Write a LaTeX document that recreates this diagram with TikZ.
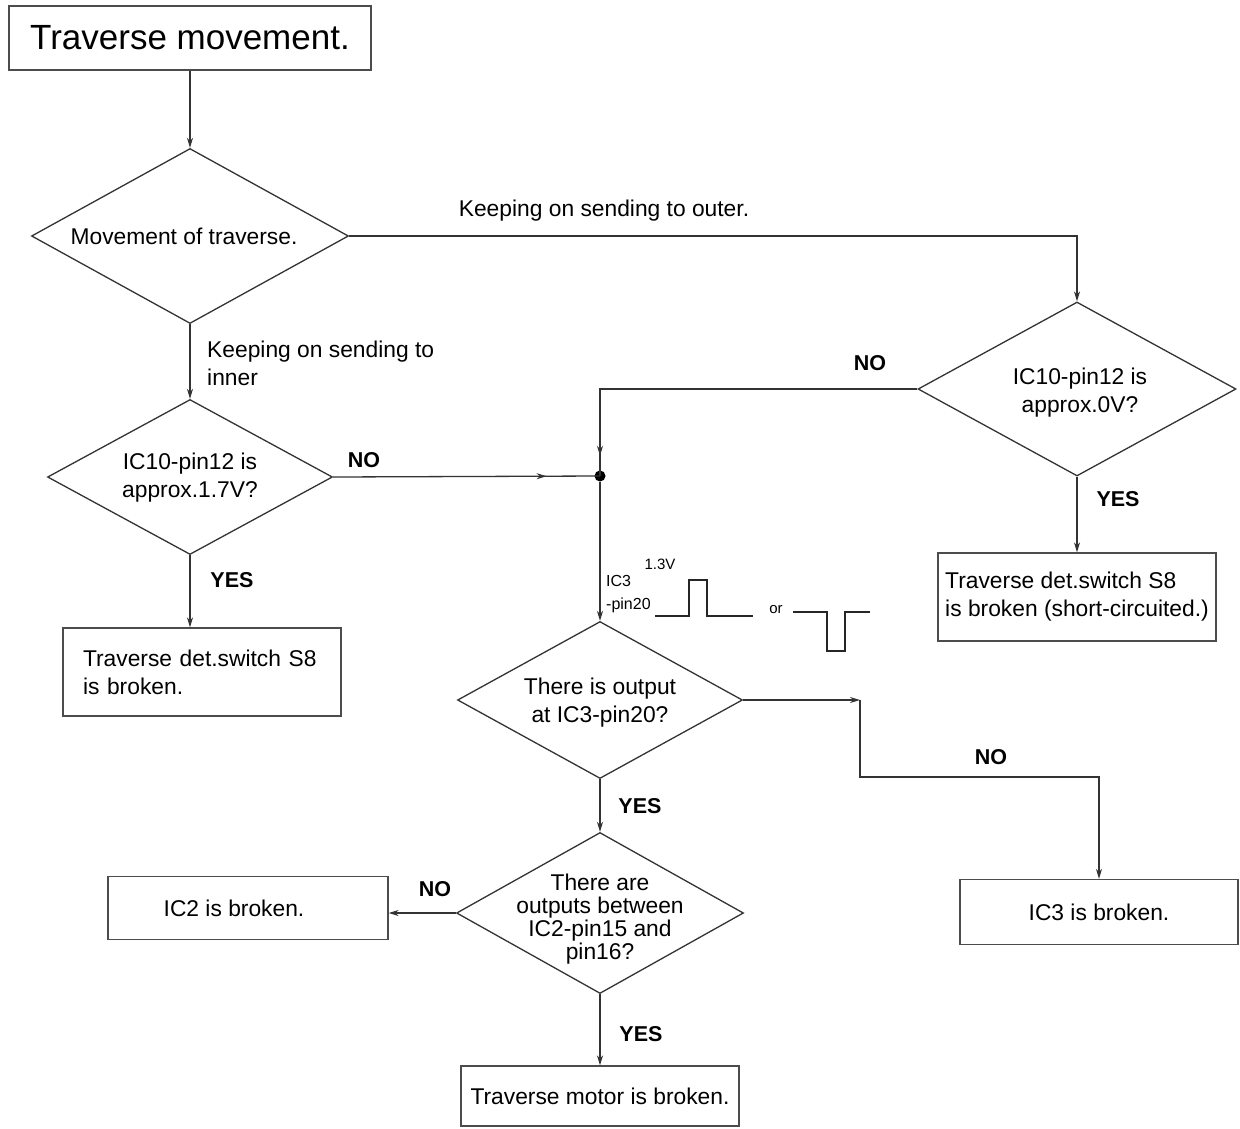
\documentclass[tikz,border=0pt]{standalone}
\usepackage{fontspec}
\setmainfont{Liberation Sans}
\usetikzlibrary{shapes.geometric,arrows.meta,decorations.markings}
\begin{document}
\begin{tikzpicture}[x=1pt,y=-1pt,
  line/.style={draw=black!80, line width=1.3pt},
  arr/.style={line, -{Stealth[length=10pt,width=6pt]}},
  midarrow/.style={postaction={decorate}, decoration={markings, mark=at position #1 with {\arrow{Stealth[length=10pt,width=6pt]}}}},
  dia/.style={diamond, draw=black!80, line width=1.3pt, inner sep=0pt},
  box/.style={rectangle, draw=black!70, line width=1.3pt, inner sep=0pt},
  txt/.style={font=\fontsize{22.8}{28}\selectfont, align=center, inner sep=0pt},
  small/.style={font=\fontsize{16}{18}\selectfont, inner sep=0pt},
  yn/.style={font=\fontsize{21.5}{25}\selectfont\bfseries, inner sep=0pt},
]
\useasboundingbox (0,0) rectangle (1240,1128);

% title
\node[box, minimum width=362pt, minimum height=64pt, font=\fontsize{35}{40}\selectfont] (title) at (190,38) {Traverse movement.};

% diamonds
\node[dia, minimum width=317pt, minimum height=175pt, label={[txt, xshift=-6pt]center:Movement of traverse.}] (d1) at (190,236) {};
\node[dia, minimum width=285pt, minimum height=155pt, label={[txt, yshift=-1pt]center:IC10-pin12 is\\approx.1.7V?}] (d2) at (190,477) {};
\node[dia, minimum width=318pt, minimum height=174pt, label={[txt, xshift=3pt, yshift=-4pt]center:IC10-pin12 is\\approx.0V?}] (d3) at (1077,389) {};
\node[dia, minimum width=285pt, minimum height=157pt, label={[txt, yshift=-3pt]center:There is output\\at IC3-pin20?}] (d4) at (600,700) {};
\node[dia, minimum width=287pt, minimum height=161pt, label={[font=\fontsize{22.8}{22.8}\selectfont, align=center, inner sep=0pt, yshift=-6pt]center:There are\\outputs between\\IC2-pin15 and\\pin16?}] (d5) at (600,913) {};

% boxes
\node[box, txt, minimum height=88pt, text width=238pt, align=left, inner xsep=20pt] (b1) at (202,672) {Traverse det.switch S8\\is broken.};
\node[box, txt, minimum width=278pt, minimum height=88pt, align=left, inner xsep=5pt] (b2) at (1077,597) {Traverse det.switch S8\\is broken (short-circuited.)};
\node[box, txt, minimum width=278pt, minimum height=65pt] (b3) at (1099,912) {IC3 is broken.};
\node[box, minimum width=280pt, minimum height=63pt] (b4) at (248,908) {};
\node[txt] (b4t) at (234,908) {IC2 is broken.};
\node[box, txt, minimum width=278pt, minimum height=60pt] (b5) at (600,1096) {Traverse motor is broken.};

% junction
\node[circle, fill=black, inner sep=0pt, minimum size=11pt] (dot) at (600,476) {};
\coordinate (c1) at (860,700);
\coordinate (c2) at (1099,777);

% connectors
\draw[arr] (title.south) -- (d1.north);
\draw[arr] (d1.east) -| (d3.north);
\draw[arr] (d1.south) -- (d2.north);
\draw[line, midarrow=0.8] (d2.east) -- (dot.center);
\draw[line, midarrow=0.95] (d3.west) -| (dot.center);
\draw[arr] (dot) -- (d4.north);
\draw[arr] (d3.south) -- (d3.south |- b2.north);
\draw[arr] (d2.south) -- (d2.south |- b1.north);
\draw[arr] (d4.east) -- (c1);
\draw[arr] (c1) |- (c2) -- (b3.north);
\draw[arr] (d4.south) -- (d5.north);
\draw[arr] (d5.west) -- (d5.west -| b4.east);
\draw[arr] (d5.south) -- (b5.north);

% connector labels
\node[txt] (lout) at (604,211) {Keeping on sending to outer.};
\node[txt, anchor=west, align=left] (lin) at (207,363) {Keeping on sending to\\inner};
\node[yn] (n1) at (364,460) {NO};
\node[yn] (y1) at (232,580) {YES};
\node[yn] (n2) at (870,363) {NO};
\node[yn] (y2) at (1118,499) {YES};
\node[yn] (n3) at (991,757) {NO};
\node[yn] (y3) at (640,806) {YES};
\node[yn] (n4) at (435,889) {NO};
\node[yn] (y4) at (641,1034) {YES};

% waveform
\node[small, font=\fontsize{15}{18}\selectfont] (v13) at (660,564) {1.3V};
\node[small, anchor=west] (ic3) at (606,581) {IC3};
\node[small, anchor=west] (pin) at (606,605) {-pin20};
\node[small, font=\fontsize{15}{18}\selectfont] (or) at (776,610) {or};
\draw[line width=1.2pt, black!85] (655,616) -- (689,616) -- (689,580) -- (707,580) -- (707,616) -- (753,616);
\draw[line width=1.2pt, black!85] (793,612) -- (827,612) -- (827,651) -- (845,651) -- (845,612) -- (870,612);
\end{tikzpicture}
\end{document}
